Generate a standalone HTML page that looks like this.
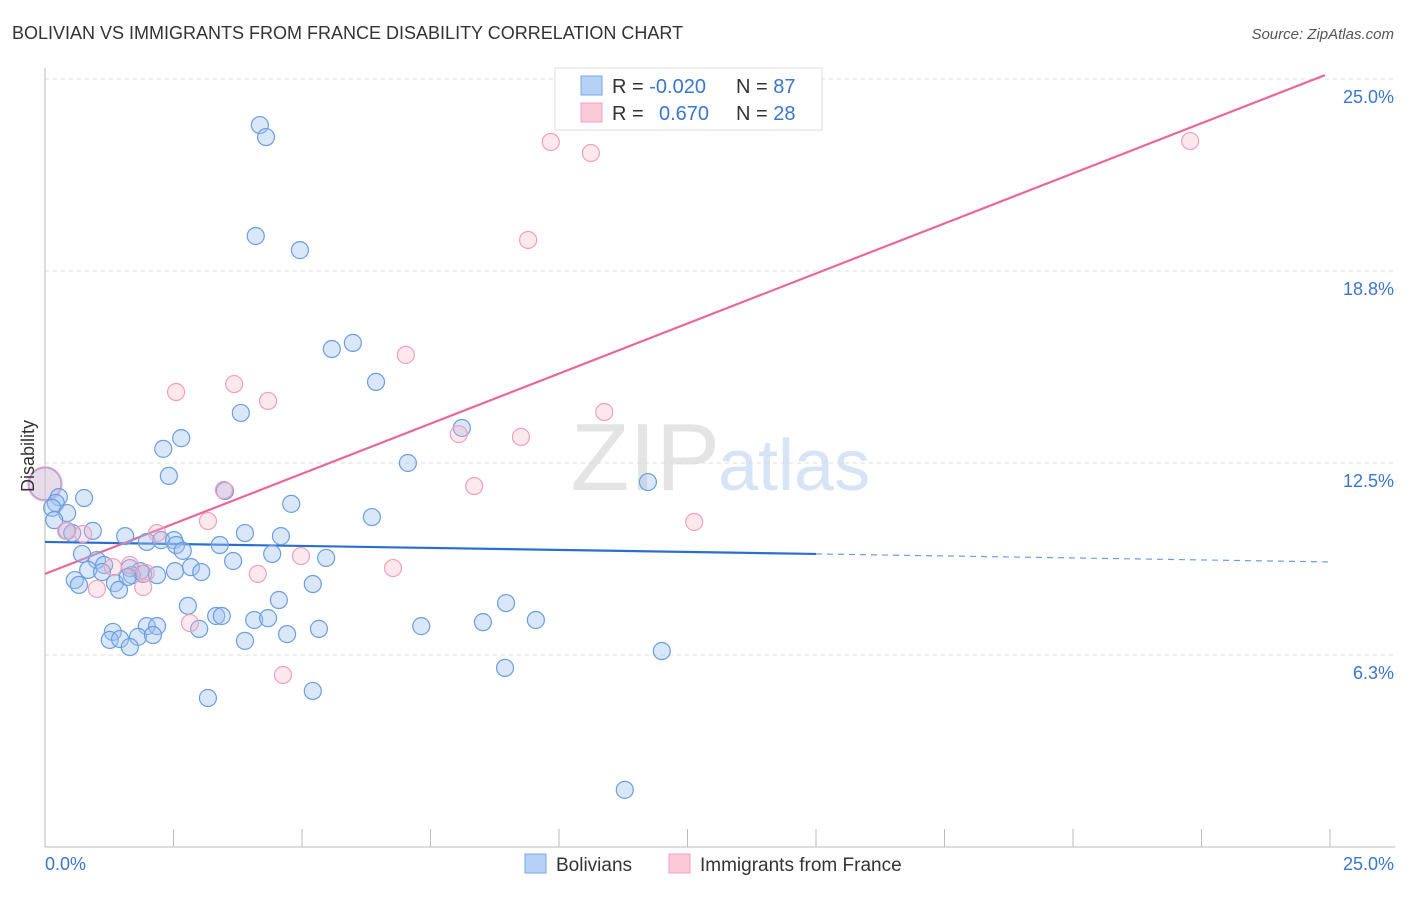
<!DOCTYPE html>
<html><head><meta charset="utf-8"><style>
body{margin:0;background:#fff;font-family:"Liberation Sans",sans-serif;}
svg text{font-family:"Liberation Sans",sans-serif;}
</style></head><body>
<svg id="chart" width="1406" height="892" xmlns="http://www.w3.org/2000/svg">
<text x="12" y="39" font-size="18" fill="#333">BOLIVIAN VS IMMIGRANTS FROM FRANCE DISABILITY CORRELATION CHART</text>
<text x="1394" y="39" font-size="15" fill="#555" font-style="italic" text-anchor="end">Source: ZipAtlas.com</text>
<text x="720" y="490" font-size="96" fill="#e4e4e4" text-anchor="end" font-family="Liberation Serif">ZIP</text>
<text x="718" y="490" font-size="72" fill="#d6e4f5">atlas</text>
<g id="grid"></g><g id="axes"></g><g id="lines"></g><g id="points"></g>
<text x="34" y="456" font-size="18" fill="#333" text-anchor="middle" transform="rotate(-90 34 456)">Disability</text>
<text x="45" y="870" font-size="18" fill="#3a76d0">0.0%</text>
<text x="1394" y="870" font-size="18" fill="#3a76d0" text-anchor="end">25.0%</text>
<g>
<rect x="555" y="68" width="267" height="62" fill="#fff" stroke="#ddd"/>
<rect x="581" y="76" width="21" height="19" fill="#b6d1f5" stroke="#7aa8e0"/>
<rect x="581" y="103" width="21" height="19" fill="#fbcad8" stroke="#f0a0bc"/>
<text x="612" y="93" font-size="20" fill="#333">R = <tspan fill="#3a76d0">-0.020</tspan></text>
<text x="736" y="93" font-size="20" fill="#333">N = <tspan fill="#3a76d0">87</tspan></text>
<text x="612" y="120" font-size="20" fill="#333">R = </text>
<text x="659" y="120" font-size="20" fill="#3a76d0">0.670</text>
<text x="736" y="120" font-size="20" fill="#333">N = <tspan fill="#3a76d0">28</tspan></text>
</g>
<g>
<rect x="525" y="854" width="21" height="19" fill="#b6d1f5" stroke="#7aa8e0"/>
<text x="556" y="871" font-size="19" fill="#333">Bolivians</text>
<rect x="669" y="854" width="21" height="19" fill="#fbcad8" stroke="#f0a0bc"/>
<text x="700" y="871" font-size="19" fill="#333">Immigrants from France</text>
</g>
</svg>
<script>
const yTicks=[6.25,12.5,18.75,25];
const yTickLabels=["6.3%","12.5%","18.8%","25.0%"];
const xTicks=[0,2.5,5,7.5,10,12.5,15,17.5,20,22.5,25];
const blueX=[4.18,4.30,4.10,4.96,5.58,5.99,6.44,3.81,8.11,2.65,2.30,2.41,7.06,11.73,3.50,0.76,0.27,0.21,0.14,0.43,0.18,4.79,6.36,0.93,0.43,0.53,1.56,1.98,2.26,2.51,2.55,2.68,3.40,3.89,4.59,0.72,1.01,1.15,4.42,5.47,3.66,0.84,1.11,1.65,1.85,1.69,1.91,2.18,2.53,2.84,3.04,0.58,0.66,1.36,1.44,1.61,5.21,2.78,4.55,3.33,3.44,4.07,4.34,8.97,7.32,8.52,9.55,1.98,2.18,1.32,3.00,5.33,4.71,1.26,1.46,1.81,2.10,3.89,1.65,12.00,8.95,5.21,3.17,11.28];
const blueY=[23.50,23.11,19.89,19.43,16.21,16.41,15.14,14.13,13.64,13.31,12.96,12.08,12.50,11.88,11.59,11.36,11.39,11.20,11.04,10.87,10.64,11.17,10.74,10.29,10.29,10.22,10.12,9.93,9.99,9.99,9.83,9.64,9.83,10.22,10.12,9.54,9.34,9.18,9.54,9.41,9.31,9.02,8.95,9.08,8.98,8.85,8.89,8.85,8.98,9.11,8.95,8.69,8.53,8.59,8.37,8.79,8.56,7.85,8.04,7.52,7.52,7.39,7.45,7.94,7.19,7.32,7.39,7.19,7.19,7.00,7.10,7.10,6.93,6.74,6.77,6.84,6.90,6.71,6.51,6.38,5.83,5.08,4.85,1.86];
const pinkX=[9.84,10.62,22.28,9.40,7.02,2.55,3.68,4.34,10.88,8.05,9.26,8.35,3.48,3.17,12.63,2.18,0.74,0.41,1.32,1.65,1.96,1.01,1.91,4.14,4.98,6.77,2.82,4.63];
const pinkY=[22.95,22.59,22.98,19.76,16.02,14.81,15.07,14.52,14.16,13.44,13.35,11.75,11.62,10.61,10.58,10.22,10.19,10.29,9.11,9.18,8.92,8.40,8.46,8.89,9.47,9.08,7.29,5.60];
const bigX=[0.0,0.0];
const bigY=[11.82,11.82];
const blueLine=[9.93,-0.026]; // intercept, slope
const pinkLine=[8.89,0.652];
const X0=45,X1=1330,YB=847,YT=79;
const sx=v=>X0+(X1-X0)*v/25;
const sy=v=>YB-(YB-YT)*v/25;
const NS="http://www.w3.org/2000/svg";
function mk(tag,attrs,parent){const e=document.createElementNS(NS,tag);for(const k in attrs)e.setAttribute(k,attrs[k]);parent.appendChild(e);return e;}
const grid=document.getElementById('grid'),axes=document.getElementById('axes'),lines=document.getElementById('lines'),pts=document.getElementById('points');
yTicks.forEach((t,i)=>{
 const l=mk('line',{x1:45,x2:1395,y1:sy(t),y2:sy(t),stroke:'#ddd','stroke-dasharray':'4,4'},grid);
 
 
 const tx=mk('text',{x:1394,y:sy(t)+24,'font-size':18,fill:'#3a76d0','text-anchor':'end'},grid);
 tx.textContent=yTickLabels[i];
 
 
});
const ya=mk('line',{x1:45,x2:45,y1:68,y2:847,stroke:'#bbb'},axes);


const xa=mk('line',{x1:45,x2:1395,y1:847,y2:847,stroke:'#bbb'},axes);


xTicks.forEach(t=>{
 const l=mk('line',{x1:sx(t),x2:sx(t),y1:829,y2:847,stroke:'#bbb'},axes);
 
 
});
function dot(x,y,r,fill,stroke,name){
 const c=mk('circle',{cx:sx(x),cy:sy(y),r:r,fill:fill,stroke:stroke,'stroke-width':1.2},pts);
 
 
}
dot(bigX[0],bigY[0],16,'rgba(170,200,240,0.35)','#7aa8e0','bolivian-point-large');
dot(bigX[1],bigY[1],17,'rgba(248,180,200,0.3)','#f0a0bc','france-point-large');
blueX.forEach((x,i)=>dot(x,blueY[i],8.5,'rgba(160,196,240,0.4)','#6b9ee0','bolivian-point'));
pinkX.forEach((x,i)=>dot(x,pinkY[i],8.5,'rgba(248,180,200,0.3)','#f0a0bc','france-point'));
const bl=mk('line',{x1:sx(0),y1:sy(blueLine[0]),x2:sx(15),y2:sy(blueLine[0]+blueLine[1]*15),stroke:'#2a6fd0','stroke-width':2.2},lines);


const bd=mk('line',{x1:sx(15),y1:sy(blueLine[0]+blueLine[1]*15),x2:sx(25),y2:sy(blueLine[0]+blueLine[1]*25),stroke:'#6b9ee0','stroke-width':1.2,'stroke-dasharray':'6,5'},lines);


const pl=mk('line',{x1:sx(0),y1:sy(pinkLine[0]),x2:sx(24.9),y2:sy(pinkLine[0]+pinkLine[1]*24.9),stroke:'#e8689a','stroke-width':2.2},lines);


</script>
</body></html>
